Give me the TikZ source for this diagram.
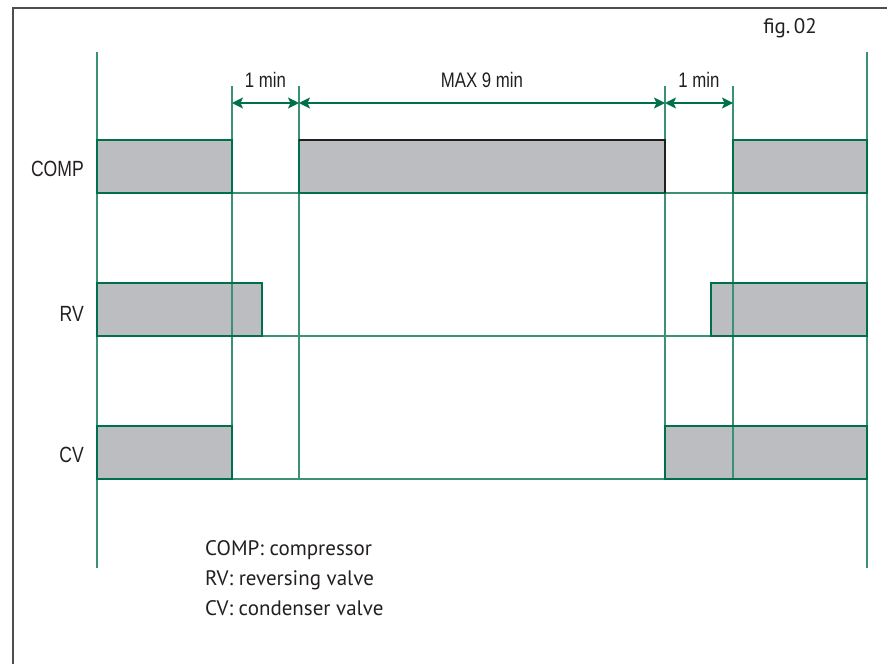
\documentclass[tikz,border=0pt]{standalone}
\usepackage{fontspec}
\setmainfont{Liberation Sans}
\newfontfamily\narrowfont[FakeStretch=0.8]{Liberation Sans}
\newfontfamily\legendfont{PT Sans}
\usetikzlibrary{arrows.meta,positioning}
\usepackage{xcolor}
\definecolor{chartgreen}{HTML}{00704A}
\definecolor{guidegreen}{HTML}{3A9272}
\definecolor{pulsegray}{HTML}{BCBDC0}
\definecolor{pulsedark}{HTML}{231F20}
\definecolor{framegray}{HTML}{4D4D4D}
\definecolor{textblack}{HTML}{231F20}

\begin{document}
\begin{tikzpicture}[
  x=1pt, y=-1pt,
  guide/.style={draw=guidegreen, line width=1.1pt},
  pulse/.style={draw=chartgreen, line width=2pt},
  pulsefill/.style={fill=pulsegray},
  span/.style={draw=chartgreen, line width=1.6pt,
    {Stealth[length=11pt,width=11pt,inset=2.5pt]}-{Stealth[length=11pt,width=11pt,inset=2.5pt]}},
  rowlabel/.style={font=\narrowfont\fontsize{22}{24}\selectfont, text=textblack, anchor=east, inner sep=0pt},
  spanlabel/.style={font=\narrowfont\fontsize{21}{24}\selectfont, text=textblack, anchor=base, inner sep=0pt, yshift=16pt},
  legend/.style={font=\legendfont\fontsize{21}{30}\selectfont, text=textblack, align=left, anchor=base west, inner sep=0pt}
]
\useasboundingbox (0,0) rectangle (887,664);
% frame
\draw[framegray, line width=1.5pt] (13,664) -- (13,8) -- (887,8);
\node[legend, anchor=base east] (fig) at (817,33) {fig.\,02};

% pulses (fill first, guides over them, outlines last)
\foreach \l/\r/\t/\b in {97/232/140/193, 299/665/140/193, 733/867/140/193,
    97/262/283/336, 711/867/283/336, 97/232/426/479, 665/867/426/479}
  \fill[pulsefill] (\l,\t) rectangle (\r,\b);

% guides
\draw[guide] (97,52) -- (97,568);
\draw[guide] (867,52) -- (867,568);
\foreach \x in {232,299,665,733}
  \draw[guide] (\x,86) -- (\x,479);
\foreach \y in {193,336,479}
  \draw[guide] (97,\y) -- (867,\y);

\foreach \l/\r/\t/\b in {97/232/140/193, 299/665/140/193, 733/867/140/193,
    97/262/283/336, 711/867/283/336, 97/232/426/479, 665/867/426/479}
  \draw[pulse] (\l,\t) rectangle (\r,\b);
\draw[pulsedark, line width=1.4pt] (299,140) -- (665,140) -- (665,193);

% row labels
\node[rowlabel] (comp) at (84,169) {COMP};
\node[rowlabel] (rv) at (84,314) {RV};
\node[rowlabel] (cv) at (84,455) {CV};

% time spans
\coordinate (t1) at (232,103);
\coordinate (t2) at (299,103);
\coordinate (t3) at (665,103);
\coordinate (t4) at (733,103);
\draw[span] (t1) -- node[spanlabel] (wait1) {1 min} (t2);
\draw[span] (t2) -- node[spanlabel] (defrost) {MAX 9 min} (t3);
\draw[span] (t3) -- node[spanlabel] (wait2) {1 min} (t4);

% legend (base = last line)
\node[legend] (key) at (205,615) {COMP: compressor\\RV: reversing valve\\CV: condenser valve};
\end{tikzpicture}
\end{document}
